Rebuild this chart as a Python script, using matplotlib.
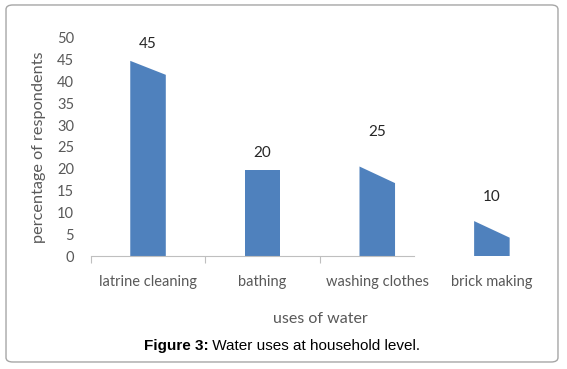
import matplotlib
matplotlib.use("Agg")
import matplotlib.pyplot as plt
from matplotlib.patches import FancyBboxPatch
import numpy as np

# data
uses = ["latrine cleaning", "bathing", "washing clothes", "brick making"]
labels = [45, 20, 25, 10]
# the bars are drawn with slanted tops in the source (left / right top heights)
top_left = [44.7, 19.8, 20.5, 8.0]
top_right = [41.5, 19.8, 16.7, 4.2]
yticks = [0, 5, 10, 15, 20, 25, 30, 35, 40, 45, 50]

bar_color = "#4F81BD"
txt_color = "#595959"
font = ["Lato", "DejaVu Sans"]

fig = plt.figure(figsize=(5.67, 3.69), dpi=100)
ax = fig.add_axes([0.160, 0.3062, 0.8086, 0.5916])

w = 0.31
x = np.arange(len(uses))
for i in range(len(uses)):
    xs = [x[i] - w / 2, x[i] - w / 2, x[i] + w / 2, x[i] + w / 2]
    ys = [0, top_left[i], top_right[i], 0]
    ax.fill(xs, ys, color=bar_color, lw=0)
    ax.annotate(str(labels[i]), (x[i], labels[i]), xytext=(0, 11),
                textcoords="offset points", ha="center", va="center",
                fontsize=11, color="#262626", family=font, annotation_clip=False)

ax.set_xlim(-0.5, 3.5)
ax.set_ylim(0, 50)
ax.set_yticks(yticks)
ax.set_xticks(x)
ax.set_xticklabels(uses)
ax.set_xticks([-0.5, 0.5, 1.5], minor=True)
ax.tick_params(axis="x", which="major", length=0, pad=14, labelsize=10.5, labelcolor=txt_color)
ax.tick_params(axis="x", which="minor", length=5, color="#BFBFBF", width=0.8)
ax.tick_params(axis="y", length=0, pad=12, labelsize=10.5, labelcolor=txt_color)
for lab in ax.get_xticklabels() + ax.get_yticklabels():
    lab.set_family(font)

for s in ["left", "right", "top"]:
    ax.spines[s].set_visible(False)
ax.spines["bottom"].set_color("#BFBFBF")
ax.spines["bottom"].set_linewidth(0.8)
ax.spines["bottom"].set_bounds(-0.5, 2.32)

ax.set_ylabel("percentage of respondents", fontsize=11.7, color=txt_color, family=font)
ax.yaxis.set_label_coords(-0.098, 0.5)
ax.set_xlabel("uses of water", fontsize=11.5, color=txt_color, family=font)
ax.xaxis.set_label_coords(0.5, -0.258)

border = FancyBboxPatch((0.0106, 0.019), 0.9735, 0.9675,
                        boxstyle="round,pad=0,rounding_size=0.012",
                        transform=fig.transFigure, fill=False,
                        edgecolor="#A6A6A6", linewidth=1.0)
fig.patches.append(border)

# caption: bold "Figure 3:" followed by regular text
fig.canvas.draw()
r = fig.canvas.get_renderer()
t1 = fig.text(0, 0.0625, "Figure 3:", fontsize=11, fontweight="bold",
              family="Liberation Sans", va="center")
t2 = fig.text(0, 0.0625, " Water uses at household level.", fontsize=11,
              family="Liberation Sans", va="center")
w1 = t1.get_window_extent(r).width
w2 = t2.get_window_extent(r).width
x0 = (282 - (w1 + w2) / 2) / 567
t1.set_x(x0)
t2.set_x(x0 + w1 / 567)

fig.savefig("out.png", dpi=100)
